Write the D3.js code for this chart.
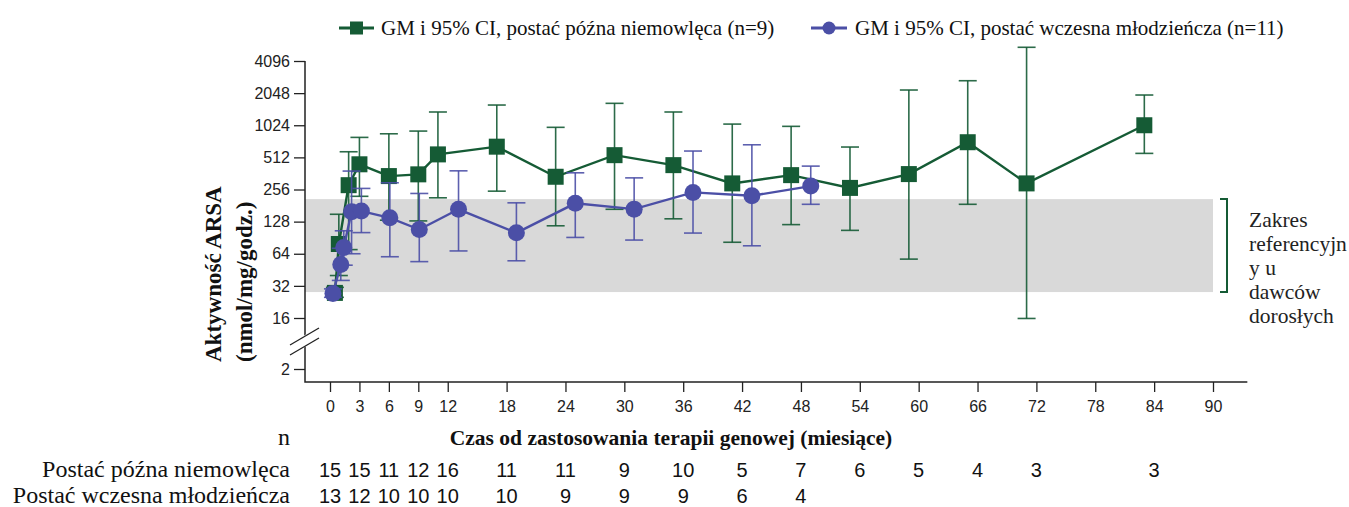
<!DOCTYPE html>
<html>
<head>
<meta charset="utf-8">
<script src="https://cdn.jsdelivr.net/npm/d3@7"></script>
<style>
  body { margin: 0; background: #fff; }
  svg { display: block; }
</style>
</head>
<body>
<svg id="chart"></svg>
<script>
const width = 1349
const height = 507

// late infantile (green squares)
const lateMonths = [0.5, 0.9, 1.9, 3, 6, 9, 11, 17, 23, 29, 35, 41, 47, 53, 59, 65, 71, 83]
const lateGM = [27.5, 79, 281, 441, 342, 355, 546, 645, 337, 537, 433, 292, 349, 265, 357, 710, 292, 1024]
const lateLo = [25, 40, 70, 221, 132, 130, 214, 247, 117, 167, 136, 82, 120, 106, 57, 186, 15.7, 558]
const lateHi = [31, 150, 578, 788, 852, 903, 1363, 1584, 979, 1643, 1363, 1050, 1000, 640, 2190, 2676, 5506, 1966]

// early juvenile (blue circles)
const juvMonths = [0.3, 1.1, 1.4, 2.2, 3.2, 6.1, 9.1, 13.1, 19, 25, 31, 37, 43, 49]
const juvGM = [27.2, 50.8, 73.3, 158.5, 160.6, 139, 108, 167, 100.5, 190, 167.6, 240.5, 223.5, 275.5]
const juvLo = [25, 36, 50, 64, 101, 60, 54, 68, 55, 91, 86, 100, 76, 186]
const juvHi = [30, 72, 105, 381, 262, 296, 235, 383, 192, 367, 329, 587, 672, 424]

// reference range in adult donors
const refRange = [28, 208]

const yTicks = [2, 16, 32, 64, 128, 256, 512, 1024, 2048, 4096]
const xTicks = [0, 3, 6, 9, 12, 18, 24, 30, 36, 42, 48, 54, 60, 66, 72, 78, 84, 90]

// number of patients under the axis
const nMonths = [0, 3, 6, 9, 12, 18, 24, 30, 36, 42, 48, 54, 60, 66, 72, 84]
const nLate = [15, 15, 11, 12, 16, 11, 11, 9, 10, 5, 7, 6, 5, 4, 3, 3]
const nJuv = [13, 12, 10, 10, 10, 10, 9, 9, 9, 6, 4]

const green = "#155b35"
const blue = "#4b4fa6"
const serif = "'Liberation Serif', 'Times New Roman', serif"
const sans = "'Liberation Sans', Arial, sans-serif"

const x = d3.scaleLinear().domain([0, 90]).range([330, 1213])
// broken log axis: 2 sits below the break, 16..4096 are evenly spaced
const y = d3.scaleLog().base(2).domain([2, 16, 4096]).range([369, 318, 61])

const axisX = 305
const axisY = 382

const svg = d3.select("#chart")
    .attr("width", width)
    .attr("height", height)
    .attr("viewBox", [0, 0, width, height])

// reference band
svg.append("rect")
    .attr("x", axisX)
    .attr("y", y(refRange[1]))
    .attr("width", x(90) - axisX)
    .attr("height", y(refRange[0]) - y(refRange[1]))
    .attr("fill", "#d9d9d9")

svg.append("path")
    .attr("d", `M${x(90) + 7},${y(refRange[1])}H${x(90) + 14}V${y(refRange[0])}H${x(90) + 7}`)
    .attr("fill", "none")
    .attr("stroke", green)
    .attr("stroke-width", 2)

const refLines = ["Zakres", "referencyjn", "y u", "dawców", "dorosłych"]
svg.append("text")
    .attr("font-family", serif)
    .attr("font-size", 21.5)
    .attr("fill", "#222")
    .selectAll("tspan")
    .data(refLines)
    .join("tspan")
    .attr("x", 1249)
    .attr("y", (d, i) => 227 + i * 24)
    .text(d => d)

// axes
const yAxis = g => g
    .attr("transform", `translate(${axisX},0)`)
    .call(d3.axisLeft(y).tickValues(yTicks).tickFormat(d3.format("d")).tickSize(11).tickSizeOuter(0))
    .call(g => g.select(".domain").remove())
    .call(g => g.selectAll("text").attr("font-family", sans).attr("font-size", 16).attr("fill", "#222").attr("dx", "-1"))
    .call(g => g.selectAll("line").attr("stroke", "#222").attr("stroke-width", 1.3))

const xAxis = g => g
    .attr("transform", `translate(0,${axisY})`)
    .call(d3.axisBottom(x).tickValues(xTicks).tickSize(10).tickSizeOuter(0))
    .call(g => g.select(".domain").remove())
    .call(g => g.selectAll("text").attr("font-family", sans).attr("font-size", 16).attr("fill", "#222").attr("dy", "1.05em"))
    .call(g => g.selectAll("line").attr("stroke", "#222").attr("stroke-width", 1.3))

svg.append("g").call(yAxis)
svg.append("g").call(xAxis)

svg.append("path")
    .attr("d", `M${axisX},${y(4096)}V${axisY}H${x(93.5)}`)
    .attr("fill", "none")
    .attr("stroke", "#222")
    .attr("stroke-width", 1.5)

// axis break
svg.append("path")
    .attr("d", "M292,343L318,327L321,337L295,353Z")
    .attr("fill", "#fff")
svg.append("g")
    .attr("stroke", "#222")
    .attr("stroke-width", 1.3)
    .selectAll("line")
    .data([0, 10])
    .join("line")
    .attr("x1", 290).attr("y1", d => 345 + d)
    .attr("x2", 319).attr("y2", d => 328 + d)

// axis titles
svg.append("text")
    .attr("transform", "translate(221,362) rotate(-90)")
    .attr("font-family", serif)
    .attr("font-weight", "bold")
    .attr("font-size", 23)
    .attr("fill", "#111")
    .text("Aktywność ARSA")
svg.append("text")
    .attr("transform", "translate(252,362) rotate(-90)")
    .attr("font-family", serif)
    .attr("font-weight", "bold")
    .attr("font-size", 23)
    .attr("fill", "#111")
    .text("(nmol/mg/godz.)")

svg.append("text")
    .attr("x", 671)
    .attr("y", 445)
    .attr("text-anchor", "middle")
    .attr("font-family", serif)
    .attr("font-weight", "bold")
    .attr("font-size", 21.5)
    .attr("fill", "#111")
    .text("Czas od zastosowania terapii genowej (miesiące)")

// n table
svg.append("text")
    .attr("x", 290).attr("y", 445)
    .attr("text-anchor", "end")
    .attr("font-family", serif)
    .attr("font-size", 24)
    .attr("fill", "#111")
    .text("n")

const rows = [
    { label: "Postać późna niemowlęca", values: nLate, yPos: 477 },
    { label: "Postać wczesna młodzieńcza", values: nJuv, yPos: 503 }
]
rows.forEach(r => {
    svg.append("text")
        .attr("x", 290).attr("y", r.yPos)
        .attr("text-anchor", "end")
        .attr("font-family", serif)
        .attr("font-size", 24)
        .attr("fill", "#111")
        .text(r.label)
    svg.append("g")
        .selectAll("text")
        .data(r.values)
        .join("text")
        .attr("x", (d, i) => x(nMonths[i]))
        .attr("y", r.yPos)
        .attr("text-anchor", "middle")
        .attr("font-family", sans)
        .attr("font-size", 20)
        .attr("fill", "#111")
        .text(d => d)
})

// series
function drawSeries(months, gm, lo, hi, color, shape) {
    const pts = months.map((m, i) => ({ m, gm: gm[i], lo: lo[i], hi: hi[i] }))
    const g = svg.append("g")

    const bars = g.append("g")
        .attr("stroke", color)
        .attr("stroke-width", 1.6)
        .attr("stroke-opacity", 0.9)
    pts.forEach(d => {
        bars.append("line")
            .attr("x1", x(d.m)).attr("x2", x(d.m))
            .attr("y1", y(d.hi)).attr("y2", y(d.lo))
        bars.append("line")
            .attr("x1", x(d.m) - 9).attr("x2", x(d.m) + 9)
            .attr("y1", y(d.hi)).attr("y2", y(d.hi))
        bars.append("line")
            .attr("x1", x(d.m) - 9).attr("x2", x(d.m) + 9)
            .attr("y1", y(d.lo)).attr("y2", y(d.lo))
    })

    g.append("path")
        .datum(pts)
        .attr("fill", "none")
        .attr("stroke", color)
        .attr("stroke-width", 2.4)
        .attr("d", d3.line().x(d => x(d.m)).y(d => y(d.gm)))

    if (shape === "square") {
        g.selectAll("rect.mk")
            .data(pts)
            .join("rect")
            .attr("class", "mk")
            .attr("x", d => x(d.m) - 8)
            .attr("y", d => y(d.gm) - 8)
            .attr("width", 16)
            .attr("height", 16)
            .attr("fill", color)
    } else {
        g.selectAll("circle.mk")
            .data(pts)
            .join("circle")
            .attr("class", "mk")
            .attr("cx", d => x(d.m))
            .attr("cy", d => y(d.gm))
            .attr("r", 8.5)
            .attr("fill", color)
    }
}

drawSeries(lateMonths, lateGM, lateLo, lateHi, green, "square")
drawSeries(juvMonths, juvGM, juvLo, juvHi, blue, "circle")

// legend
const legend = svg.append("g")
    .attr("font-family", serif)
    .attr("font-size", 21)
    .attr("fill", "#111")

legend.append("line")
    .attr("x1", 339).attr("x2", 374).attr("y1", 28).attr("y2", 28)
    .attr("stroke", green).attr("stroke-width", 3)
legend.append("rect")
    .attr("x", 350).attr("y", 21.5).attr("width", 13).attr("height", 13)
    .attr("fill", green)
legend.append("text")
    .attr("x", 381).attr("y", 35)
    .text("GM i 95% CI, postać późna niemowlęca (n=9)")

legend.append("line")
    .attr("x1", 811).attr("x2", 847).attr("y1", 28).attr("y2", 28)
    .attr("stroke", blue).attr("stroke-width", 3)
legend.append("circle")
    .attr("cx", 829).attr("cy", 28).attr("r", 6.5)
    .attr("fill", blue)
legend.append("text")
    .attr("x", 855).attr("y", 35)
    .text("GM i 95% CI, postać wczesna młodzieńcza (n=11)")
</script>
</body>
</html>
